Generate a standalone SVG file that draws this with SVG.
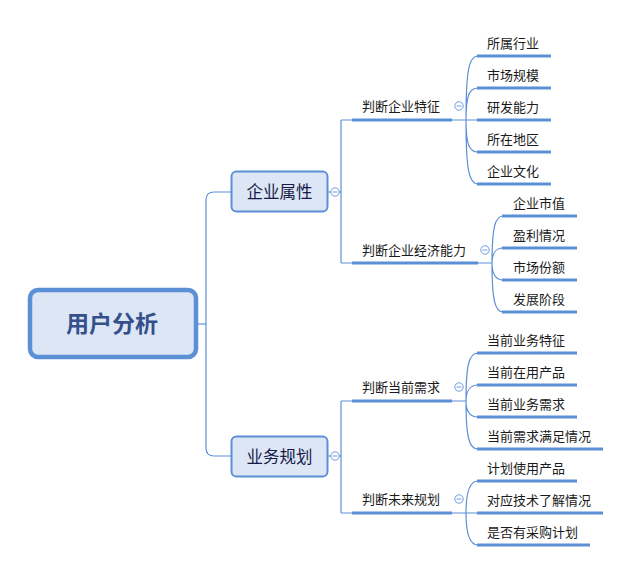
<svg xmlns="http://www.w3.org/2000/svg" width="635" height="583" viewBox="0 0 635 583">
<style>
.thin{fill:none;stroke:#5b8fd6;stroke-width:1.2}
.ul{fill:none;stroke:#5b8fd6;stroke-width:3}
.col{fill:#fff;stroke:#6d9be0;stroke-width:1}
.minus{stroke:#6d9be0;stroke-width:1}
.t{font-family:"Noto Sans CJK SC","Liberation Sans",sans-serif;fill:#1a1a1a}
.l2{font-size:13px}
.l1{font-size:16.5px;fill:#1a1a4a}
</style>
<defs>
<g id="collapse"><circle r="4.2" class="col"/><line x1="-2.4" y1="0" x2="2.4" y2="0" class="minus"/></g>
</defs>
<rect width="635" height="583" fill="#fff"/>
<g id="connectors">
<path class="thin" d="M197,324 H206"/>
<path class="thin" d="M231,192 H214 Q206,192 206,200 V448 Q206,456 214,456 H231"/>
<path class="thin" d="M328,192 H341 M341,120 V263 M341,120 H352 M341,263 H352"/>
<path class="thin" d="M328,456 H341 M341,401 V513 M341,401 H352 M341,513 H352"/>
<path class="thin" d="M452,120 H466 M478,263 H492 M452,401 H466 M452,513 H466"/>
<path class="thin" d="M466,120 C466,70 469,56 478,56 M466,120 C466,96 469,88 478,88 M466,120 H478 M466,120 C466,144 469,152 478,152 M466,120 C466,170 469,184 478,184"/>
<path class="thin" d="M492,263 C492,228 495,216 503,216 M492,263 C492,255 495,248 503,248 M492,263 C492,272 495,280 503,280 M492,263 C492,300 495,312 503,312"/>
<path class="thin" d="M466,401 C466,365 469,353 478,353 M466,401 C466,393 469,385 478,385 M466,401 C466,410 469,417 478,417 M466,401 C466,437 469,449 478,449"/>
<path class="thin" d="M466,513 C466,493 469,481 478,481 M466,513 H478 M466,513 C466,533 469,545 478,545"/>
</g>
<g id="root">
<rect x="30" y="290" width="166" height="67" rx="8" fill="#dce6f4" stroke="#5b8fd6" stroke-width="4.5"/>
<text x="112" y="332" text-anchor="middle" class="t" style="font-size:23px;font-weight:bold;fill:#34508c">用户分析</text>
</g>
<g id="n-qiye">
<rect x="231.5" y="171.5" width="96" height="40" rx="5" fill="#dce6f4" stroke="#5b8fd6" stroke-width="2"/>
<text x="279.5" y="197.5" text-anchor="middle" class="t l1">企业属性</text>
<use href="#collapse" x="335" y="192"/>
</g>
<g id="n-yewu">
<rect x="231.5" y="436.5" width="96" height="40" rx="5" fill="#dce6f4" stroke="#5b8fd6" stroke-width="2"/>
<text x="279.5" y="462.5" text-anchor="middle" class="t l1">业务规划</text>
<use href="#collapse" x="335" y="456"/>
</g>
<g id="n-tezheng">
<line x1="352" y1="120" x2="452" y2="120" class="ul"/>
<text x="362" y="111" class="t l2">判断企业特征</text>
<use href="#collapse" x="459" y="106"/>
</g>
<g id="n-jingji">
<line x1="352" y1="263" x2="478" y2="263" class="ul"/>
<text x="362" y="255" class="t l2">判断企业经济能力</text>
<use href="#collapse" x="485" y="250"/>
</g>
<g id="n-dangqian">
<line x1="352" y1="401" x2="452" y2="401" class="ul"/>
<text x="362" y="392" class="t l2">判断当前需求</text>
<use href="#collapse" x="459" y="387"/>
</g>
<g id="n-weilai">
<line x1="352" y1="513" x2="452" y2="513" class="ul"/>
<text x="362" y="504" class="t l2">判断未来规划</text>
<use href="#collapse" x="459" y="499"/>
</g>
<g id="n-l1"><line x1="477" y1="56" x2="551" y2="56" class="ul"/><text x="487" y="48" class="t l2">所属行业</text></g>
<g id="n-l2"><line x1="477" y1="88" x2="551" y2="88" class="ul"/><text x="487" y="80" class="t l2">市场规模</text></g>
<g id="n-l3"><line x1="477" y1="120" x2="551" y2="120" class="ul"/><text x="487" y="112" class="t l2">研发能力</text></g>
<g id="n-l4"><line x1="477" y1="152" x2="551" y2="152" class="ul"/><text x="487" y="144" class="t l2">所在地区</text></g>
<g id="n-l5"><line x1="477" y1="184" x2="551" y2="184" class="ul"/><text x="487" y="176" class="t l2">企业文化</text></g>
<g id="n-l6"><line x1="502" y1="216" x2="577" y2="216" class="ul"/><text x="513" y="208" class="t l2">企业市值</text></g>
<g id="n-l7"><line x1="502" y1="248" x2="577" y2="248" class="ul"/><text x="513" y="240" class="t l2">盈利情况</text></g>
<g id="n-l8"><line x1="502" y1="280" x2="577" y2="280" class="ul"/><text x="513" y="272" class="t l2">市场份额</text></g>
<g id="n-l9"><line x1="502" y1="312" x2="577" y2="312" class="ul"/><text x="513" y="304" class="t l2">发展阶段</text></g>
<g id="n-l10"><line x1="477" y1="353" x2="577" y2="353" class="ul"/><text x="487" y="345" class="t l2">当前业务特征</text></g>
<g id="n-l11"><line x1="477" y1="385" x2="577" y2="385" class="ul"/><text x="487" y="377" class="t l2">当前在用产品</text></g>
<g id="n-l12"><line x1="477" y1="417" x2="577" y2="417" class="ul"/><text x="487" y="409" class="t l2">当前业务需求</text></g>
<g id="n-l13"><line x1="477" y1="449" x2="603" y2="449" class="ul"/><text x="487" y="441" class="t l2">当前需求满足情况</text></g>
<g id="n-l14"><line x1="477" y1="481" x2="577" y2="481" class="ul"/><text x="487" y="473" class="t l2">计划使用产品</text></g>
<g id="n-l15"><line x1="477" y1="513" x2="603" y2="513" class="ul"/><text x="487" y="505" class="t l2">对应技术了解情况</text></g>
<g id="n-l16"><line x1="477" y1="545" x2="590" y2="545" class="ul"/><text x="487" y="537" class="t l2">是否有采购计划</text></g>
</svg>
